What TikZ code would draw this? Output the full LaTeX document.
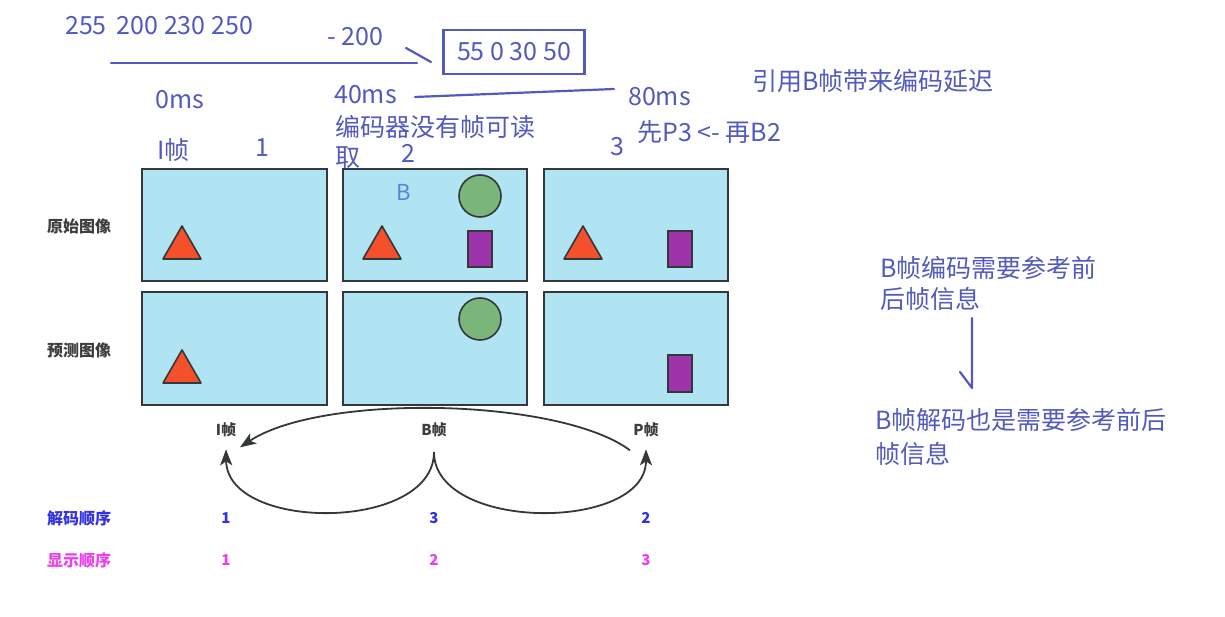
\documentclass[tikz,border=0pt]{standalone}
\usepackage{fontspec}
\usetikzlibrary{arrows.meta}
\setmainfont{Noto Sans CJK SC}
\definecolor{ink}{RGB}{82,90,190}
\definecolor{inklight}{RGB}{96,128,214}
\definecolor{panel}{RGB}{176,228,242}
\definecolor{edge}{RGB}{52,56,58}
\definecolor{tri}{RGB}{244,80,44}
\definecolor{disc}{RGB}{122,182,122}
\definecolor{bar}{RGB}{158,52,170}
\definecolor{decode}{RGB}{50,50,226}
\definecolor{show}{RGB}{234,64,234}
\definecolor{lbl}{RGB}{62,62,62}
\tikzset{>={Stealth[length=16pt, width=12pt, inset=4pt]}}

\begin{document}
\begin{tikzpicture}[x=1pt, y=-1pt,
    note/.style={text=ink, font=\fontsize{25}{31}\selectfont, inner sep=0pt, anchor=west},
    pen/.style={ink, line width=2.2pt, line cap=round},
    shot/.style={draw=edge, line width=1.8pt, fill=panel},
    redtri/.style={draw=edge, line width=1.6pt, fill=tri, line join=round},
    greendisc/.style={draw=edge, line width=1.6pt, fill=disc},
    purplebar/.style={draw=edge, line width=1.6pt, fill=bar},
    rowlbl/.style={text=lbl, font=\fontsize{16}{19}\selectfont\bfseries, inner sep=0pt, anchor=west},
    kind/.style={text=lbl, font=\fontsize{15}{18}\selectfont\bfseries, inner sep=0pt},
    order/.style={font=\fontsize{15}{18}\selectfont\bfseries, inner sep=0pt},
    link/.style={->, edge, line width=1.8pt}]
    \useasboundingbox[fill=white] (0,0) rectangle (1225,617);

    \node[note] (vals) at (65,26) {255\hspace{10pt}200 230 250};
    \node[note] (minus) at (327,37) {- 200};
    \node[note, draw=ink, line width=2.2pt, anchor=center, minimum width=141pt, minimum height=44pt] (diff) at (514,52) {55 0 30 50};
    \coordinate (u1) at (111,63);
    \coordinate (u2) at (417,63);
    \coordinate (s1) at (406,48);
    \coordinate (s2) at (431,62);
    \draw[pen] (u1) -- (u2);
    \draw[pen] (s1) -- (s2);

    \node[note] (t0) at (155,100) {0ms};
    \node[note] (t40) at (334,95) {40ms};
    \node[note] (t80) at (628,97) {80ms};
    \draw[pen] ([xshift=18pt, yshift=-2pt]t40.east) -- ([xshift=-14pt, yshift=8pt]t80.west);
    \node[note] (delay) at (752,81) {引用B帧带来编码延迟};
    \node[note] (noread) at (335,127) {编码器没有帧可读};
    \node[note] (noread2) at (335,158) {取};
    \node[note] (order) at (637,132) {先P3 <- 再B2};
    \node[note] (iname) at (157,150) {I帧};
    \node[note, anchor=center] (n1) at (262,148) {1};
    \node[note, anchor=center] (n2) at (408,153) {2};
    \node[note, anchor=center] (n3) at (617,147) {3};

    \draw[shot] (142,169) rectangle (327,281);
    \draw[shot] (343,169) rectangle (527,281);
    \draw[shot] (544,169) rectangle (728,281);
    \draw[shot] (142,292) rectangle (327,405);
    \draw[shot] (343,292) rectangle (527,405);
    \draw[shot] (544,292) rectangle (728,405);
    \foreach \x/\y in {182/259, 382/259, 583/259, 182/383}
        \draw[redtri] (\x-19,\y) -- (\x,\y-33) -- (\x+19,\y) -- cycle;
    \draw[greendisc] (480,196) circle (21);
    \draw[greendisc] (480,319) circle (21);
    \draw[purplebar] (468,231) rectangle (492,267);
    \draw[purplebar] (668,231) rectangle (692,267);
    \draw[purplebar] (668,355) rectangle (692,392);
    \node[note, text=inklight, anchor=center, font=\fontsize{22}{26}\selectfont] (bmark) at (404,192) {B};

    \node[rowlbl] (orig) at (47,226) {原始图像};
    \node[rowlbl] (pred) at (47,350) {预测图像};

    \node[kind] (iframe) at (226,430) {I帧};
    \node[kind] (bframe) at (434,430) {B帧};
    \node[kind] (pframe) at (646,430) {P帧};
    \coordinate (bfoot) at (434,452);
    \draw[link] ([xshift=-16pt, yshift=-13pt]pframe.south) .. controls (560,398) and (322,393) .. ([xshift=14pt, yshift=-10pt]iframe.south);
    \draw[link] (bfoot) .. controls (434,532) and (227,532) .. ([yshift=-12pt]iframe.south);
    \draw[link] (bfoot) .. controls (434,532) and (646,532) .. ([yshift=-12pt]pframe.south);

    \node[rowlbl, text=decode] (declbl) at (47,518) {解码顺序};
    \node[rowlbl, text=show] (shwlbl) at (47,560) {显示顺序};
    \foreach \x/\d/\s in {226/1/1, 434/3/2, 646/2/3} {
        \node[order, text=decode] (dec\x) at (\x,518) {\d};
        \node[order, text=show] (shw\x) at (\x,560) {\s};
    }

    \node[note, anchor=north west, align=left, font=\fontsize{25}{31}\selectfont] (encnote) at (880,256) {B帧编码需要参考前\\后帧信息};
    \node[note, anchor=north west, align=left, font=\fontsize{25}{34}\selectfont] (decnote) at (875,408) {B帧解码也是需要参考前后\\帧信息};
    \coordinate (d1) at (972,318);
    \coordinate (d2) at (972,388);
    \coordinate (d3) at (960,372);
    \draw[pen, line join=round] (d1) -- (d2) -- (d3);
\end{tikzpicture}
\end{document}
